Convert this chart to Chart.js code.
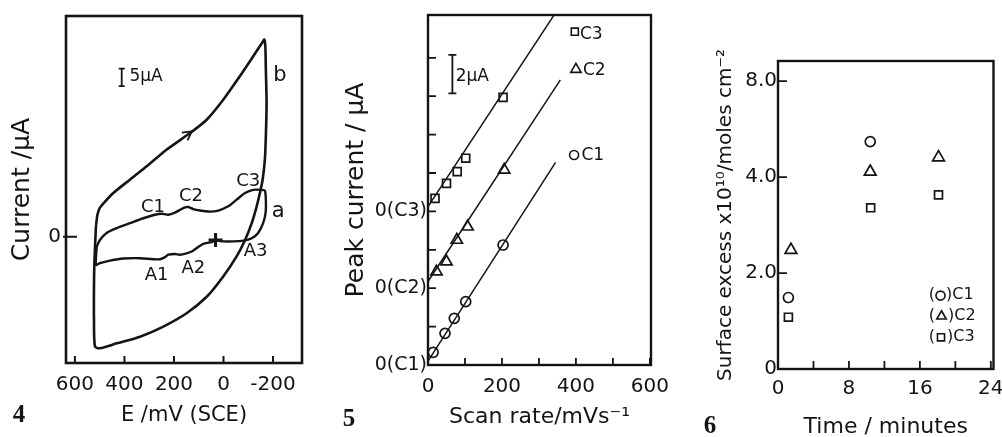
<!DOCTYPE html>
<html><head><meta charset="utf-8">
<script src="https://cdn.jsdelivr.net/npm/chart.js@4.4.1/dist/chart.umd.min.js"></script>
<style>
html,body{margin:0;padding:0;background:#fff;}
#wrap{position:relative;width:1002px;height:437px;overflow:hidden;background:#fff;}
.p{position:absolute;top:0;width:334px;height:437px;}
</style></head><body>
<div id="wrap">
<div class="p" style="left:0"><canvas id="c1" width="334" height="437"></canvas></div>
<div class="p" style="left:334px"><canvas id="c2" width="334" height="437"></canvas></div>
<div class="p" style="left:668px"><canvas id="c3" width="334" height="437"></canvas></div>
</div>
<script>
// ===== Figure 4: cyclic voltammograms, E / mV (SCE) vs current / µA =====
const curveB_E = [515, 509, 499, 479, 445, 378, 310, 229, 135, 68, 1, -66, -120, -160, -165, -169, -171, -174, -171, -167, -158, -147, -134, -114, -87, -53, 1, 68, 149, 243, 337, 431, 499, 519, 523, 523, 521, 515];
const curveB_I = [3.1, 6.3, 8.3, 10.0, 12.5, 16.3, 20.1, 24.9, 29.6, 33.4, 39.1, 45.8, 51.5, 55.8, 56.3, 54.3, 47.7, 38.2, 28.7, 22.0, 16.3, 12.5, 8.7, 3.9, -0.9, -5.6, -11.3, -17.1, -21.8, -25.6, -28.5, -30.4, -31.8, -31.3, -23.7, -14.2, -6.6, 3.1];
const curveA_E = [512, 499, 472, 431, 378, 324, 277, 250, 223, 196, 176, 156, 142, 122, 95, 55, 21, -19, -53, -87, -120, -154, -167, -171, -170, -160, -140, -114, -80, -39, 1, 28, 55, 82, 108, 128, 149, 176, 196, 223, 236, 256, 284, 337, 405, 458, 499, 515, 512];
const curveA_I = [-2.8, -0.9, 1.1, 2.5, 3.9, 5.3, 6.3, 6.6, 6.3, 6.9, 7.7, 8.4, 8.5, 7.9, 7.5, 7.2, 7.5, 8.7, 10.6, 12.5, 13.4, 13.4, 13.2, 10.6, 6.8, 3.9, 1.1, -0.4, -1.1, -1.3, -1.3, -1.1, -1.6, -2.0, -3.2, -4.2, -4.7, -5.1, -4.9, -5.1, -5.8, -6.4, -6.4, -6.1, -6.2, -6.8, -7.5, -8.0, -2.8];
const startE = [32];
const startI = [-0.9];
const fig4XTicks = [600, 400, 200, 0, -200];
const fig4XTickLabels = ['600', '400', '200', '0', '-200'];
const fig4YTicks = [0];
const fig4YTickLabels = ['0'];
const fig4Labels = ['C1', 'C2', 'C3', 'A1', 'A2', 'A3'];
const fig4LabelE = [285, 131, -100, 270, 122, -130];
const fig4LabelI = [8.4, 11.5, 15.7, -10.9, -8.9, -4.0];
const fig4CurveNames = ['a', 'b'];
const fig4CurveNameE = [-221, -228];
const fig4CurveNameI = [7.2, 46];

// ===== Figure 5: peak current vs scan rate =====
const scanRateC1 = [14, 46, 71, 102, 203];
const peakC1 = [0.66, 1.65, 2.43, 3.30, 6.25];
const scanRateC2 = [23, 50, 78, 107, 206];
const peakC2 = [0.86, 1.38, 2.51, 3.20, 6.16];
const scanRateC3 = [19, 50, 79, 102, 203];
const peakC3 = [0.68, 1.46, 2.07, 2.77, 5.94];
const zeroOffsets = [0, 4, 8];          // baseline of C1, C2, C3 on the shared axis (µA)
const fitRateC1 = [0, 345], fitPeakC1 = [0.2, 10.55];
const fitRateC2 = [0, 358], fitPeakC2 = [0.35, 10.85];
const fitRateC3 = [0, 345], fitPeakC3 = [0.25, 10.35];
const fig5XTicks = [0, 100, 200, 300, 400, 500, 600];
const fig5XTickLabels = ['0', '', '200', '', '400', '', '600'];
const fig5YTicks = [0, 2, 4, 6, 8, 10, 12, 14, 16];
const fig5YTickLabels = ['0(C1)', '', '0(C2)', '', '0(C3)', '', '', '', ''];

// ===== Figure 6: surface excess vs time =====
const timeC1 = [1.17, 10.4];
const excessC1 = [1.49, 4.74];
const timeC2 = [1.46, 10.4, 18.1];
const excessC2 = [2.48, 4.11, 4.41];
const timeC3 = [1.17, 10.45, 18.1];
const excessC3 = [1.08, 3.36, 3.63];
const fig6XTicks = [0, 4, 8, 12, 16, 20, 24];
const fig6XTickLabels = ['0', '', '8', '', '16', '', '24'];
const fig6YTicks = [0, 2, 4, 6];
const fig6YTickLabels = ['0', '2.0', '4.0', '8.0'];

// ---------------------------------------------------------------
const INK = '#141414';
const FONT = "'DejaVu Sans', sans-serif";
Chart.defaults.font.family = FONT;
Chart.defaults.color = INK;

const pts = (xs, ys, off = 0) => xs.map((x, i) => ({x, y: ys[i] + off}));

function marker(ctx, style, x, y, r) {
  ctx.beginPath();
  if (style === 'circle') ctx.arc(x, y, r, 0, Math.PI * 2);
  else if (style === 'rect') { const s = r * Math.SQRT1_2; ctx.rect(x - s, y - s, 2 * s, 2 * s); }
  else if (style === 'triangle') {
    for (let k = 0; k < 3; k++) {
      const a = k * 2 * Math.PI / 3;
      const px = x + Math.sin(a) * r, py = y - Math.cos(a) * r;
      k ? ctx.lineTo(px, py) : ctx.moveTo(px, py);
    }
    ctx.closePath();
  }
  ctx.fillStyle = '#fff'; ctx.fill(); ctx.stroke();
}

const decor = {
  id: 'decor',
  afterDatasetsDraw(chart, args, o) {
    const ctx = chart.ctx, a = chart.chartArea, xs = chart.scales.x, ys = chart.scales.y;
    const X = v => xs.getPixelForValue(v), Y = v => ys.getPixelForValue(v);
    ctx.save();
    ctx.strokeStyle = INK; ctx.fillStyle = INK;
    // frame
    ctx.lineWidth = o.frame;
    ctx.strokeRect(a.left, a.top, a.right - a.left, a.bottom - a.top);
    // inward tick marks
    ctx.lineWidth = o.tickW;
    ctx.beginPath();
    xs.ticks.forEach(t => { const p = X(t.value); ctx.moveTo(p, a.bottom); ctx.lineTo(p, a.bottom - o.xIn); });
    ys.ticks.forEach(t => { const p = Y(t.value); ctx.moveTo(a.left - (o.yOut || 0), p); ctx.lineTo(a.left + o.yIn, p); });
    ctx.stroke();
    // scale bar
    if (o.bar) {
      const b = o.bar, px = X(b.x), p1 = Y(b.y0), p2 = Y(b.y1);
      ctx.lineWidth = 1.8; ctx.beginPath();
      ctx.moveTo(px, p1); ctx.lineTo(px, p2);
      ctx.moveTo(px - b.cap, p1); ctx.lineTo(px + b.cap, p1);
      ctx.moveTo(px - b.cap, p2); ctx.lineTo(px + b.cap, p2);
      ctx.stroke();
    }
    // arrow head
    if (o.arrow) {
      const w = o.arrow, tx = X(w.x), ty = Y(w.y), ang = Math.atan2(ty - Y(w.fy), tx - X(w.fx));
      ctx.lineWidth = 1.8; ctx.beginPath();
      ctx.moveTo(tx + Math.cos(ang + Math.PI - 0.5) * 10, ty + Math.sin(ang + Math.PI - 0.5) * 10);
      ctx.lineTo(tx, ty);
      ctx.lineTo(tx + Math.cos(ang + Math.PI + 0.5) * 10, ty + Math.sin(ang + Math.PI + 0.5) * 10);
      ctx.stroke();
    }
    // markers used as keys
    ctx.lineWidth = 1.6;
    (o.marks || []).forEach(m => marker(ctx, m.style, X(m.x), Y(m.y), m.r));
    // texts in data coordinates
    ctx.fillStyle = INK; ctx.textBaseline = 'middle';
    (o.texts || []).forEach(t => {
      ctx.font = t.font; ctx.textAlign = t.align || 'center';
      ctx.fillText(t.text, X(t.x), Y(t.y));
    });
    // key lines like "(○)C1"
    (o.keys || []).forEach(k => {
      ctx.font = k.font; ctx.textAlign = 'left';
      let x = X(k.x); const y = Y(k.y);
      ctx.fillStyle = INK; ctx.fillText('(', x, y); x += ctx.measureText('(').width + k.r + 1;
      marker(ctx, k.style, x, y + 0.5, k.r);
      x += k.r + 1;
      ctx.fillStyle = INK; ctx.fillText(')' + k.text, x, y);
    });
    // panel number
    if (o.panel) {
      ctx.font = "bold 25px 'Liberation Serif', serif"; ctx.textAlign = 'center'; ctx.fillStyle = INK;
      ctx.fillText(o.panel.text, o.panel.x, o.panel.y);
    }
    ctx.restore();
  }
};

function fixedTicks(values) { return s => { s.ticks = values.map(v => ({value: v})); }; }
function xAxis(h, o) {
  return Object.assign({
    type: 'linear',
    grid: {display: false, drawTicks: false}, border: {display: false},
    afterFit: s => { s.height = h; s.paddingLeft = 0; s.paddingRight = 0; }
  }, o);
}
function yAxis(w, o) {
  return Object.assign({
    type: 'linear',
    grid: {display: false, drawTicks: false}, border: {display: false},
    afterFit: s => { s.width = w; s.paddingTop = 0; s.paddingBottom = 0; }
  }, o);
}
const base = {responsive: false, animation: false, events: [], maintainAspectRatio: false};

// ---------- Figure 4 ----------
new Chart(document.getElementById('c1'), {
  type: 'scatter',
  data: {datasets: [
    {data: pts(curveB_E, curveB_I), showLine: true, borderColor: INK, borderWidth: 2.6, pointRadius: 0, tension: 0.25},
    {data: pts(curveA_E, curveA_I), showLine: true, borderColor: INK, borderWidth: 2.4, pointRadius: 0, tension: 0.25},
    {data: pts(startE, startI), pointStyle: 'cross', pointRadius: 7, borderColor: INK, pointBorderWidth: 3}
  ]},
  options: Object.assign({}, base, {
    layout: {padding: {top: 16, right: 32, left: 0, bottom: 0}},
    plugins: {legend: {display: false}, tooltip: {enabled: false},
      decor: {frame: 2.6, tickW: 2, xIn: 7, yIn: 11, yOut: 3,
        bar: {x: 411, y0: 43, y1: 48, cap: 3},
        arrow: {x: 128, y: 30.1, fx: 229, fy: 24.9},
        texts: [
          ...fig4Labels.map((t, i) => ({text: t, x: fig4LabelE[i], y: fig4LabelI[i], font: `18px ${FONT}`})),
          ...fig4CurveNames.map((t, i) => ({text: t, x: fig4CurveNameE[i], y: fig4CurveNameI[i], font: `21px ${FONT}`})),
          {text: '5µA', x: 380, y: 45.6, align: 'left', font: `17px ${FONT}`}
        ],
        panel: {text: '4', x: 19, y: 416}}},
    scales: {
      x: xAxis(74, {min: -317, max: 636, reverse: true,
        afterBuildTicks: fixedTicks(fig4XTicks),
        ticks: {font: {size: 20}, padding: 10, autoSkip: false, maxRotation: 0, callback: (v, i) => fig4XTickLabels[i]},
        title: {display: true, text: 'E /mV (SCE)', font: {size: 21}, padding: {top: 0, bottom: 9}}}),
      y: yAxis(66, {min: -36, max: 63,
        afterBuildTicks: fixedTicks(fig4YTicks),
        ticks: {font: {size: 20}, padding: 5, callback: (v, i) => fig4YTickLabels[i]},
        title: {display: true, text: 'Current /µA', font: {size: 25}, padding: {top: 7, bottom: 0}}})
    }
  }),
  plugins: [decor]
});

// ---------- Figure 5 ----------
const openPt = (style, r) => ({pointStyle: style, pointRadius: r, pointBackgroundColor: '#fff', pointBorderColor: INK, pointBorderWidth: 1.7, showLine: false});
const fitLine = {showLine: true, borderColor: INK, borderWidth: 1.5, pointRadius: 0};
new Chart(document.getElementById('c2'), {
  type: 'scatter',
  data: {datasets: [
    Object.assign({data: pts(fitRateC1, fitPeakC1, zeroOffsets[0])}, fitLine),
    Object.assign({data: pts(fitRateC2, fitPeakC2, zeroOffsets[1])}, fitLine),
    Object.assign({data: pts(fitRateC3, fitPeakC3, zeroOffsets[2])}, fitLine),
    Object.assign({data: pts(scanRateC1, peakC1, zeroOffsets[0])}, openPt('circle', 5)),
    Object.assign({data: pts(scanRateC2, peakC2, zeroOffsets[1])}, openPt('triangle', 6.5)),
    Object.assign({data: pts(scanRateC3, peakC3, zeroOffsets[2])}, openPt('rect', 5.6))
  ]},
  options: Object.assign({}, base, {
    layout: {padding: {top: 15, right: 17, left: 0, bottom: 0}},
    plugins: {legend: {display: false}, tooltip: {enabled: false},
      decor: {frame: 2.4, tickW: 1.8, xIn: 7, yIn: 8,
        bar: {x: 66, y0: 14.15, y1: 16.15, cap: 4},
        marks: [
          {style: 'rect', x: 397, y: 17.36, r: 5},
          {style: 'triangle', x: 400, y: 15.4, r: 6},
          {style: 'circle', x: 395, y: 10.94, r: 4.5}
        ],
        texts: [
          {text: 'C3', x: 411, y: 17.2, align: 'left', font: `17px ${FONT}`},
          {text: 'C2', x: 419, y: 15.35, align: 'left', font: `17px ${FONT}`},
          {text: 'C1', x: 415, y: 10.9, align: 'left', font: `17px ${FONT}`},
          {text: '2µA', x: 75, y: 15.0, align: 'left', font: `17px ${FONT}`}
        ],
        panel: {text: '5', x: 15, y: 420}}},
    scales: {
      x: xAxis(72, {min: 0, max: 603,
        afterBuildTicks: fixedTicks(fig5XTicks),
        ticks: {font: {size: 20}, padding: 10, autoSkip: false, maxRotation: 0, callback: (v, i) => fig5XTickLabels[i]},
        title: {display: true, text: 'Scan rate/mVs⁻¹', font: {size: 22}, padding: {top: 0, bottom: 7}}}),
      y: yAxis(94, {min: 0, max: 18.23,
        afterBuildTicks: fixedTicks(fig5YTicks),
        ticks: {font: {size: 19}, padding: 1, autoSkip: false, callback: (v, i) => fig5YTickLabels[i]},
        title: {display: true, text: 'Peak current / µA', font: {size: 25}, padding: {top: 7, bottom: 0}}})
    }
  }),
  plugins: [decor]
});

// ---------- Figure 6 ----------
new Chart(document.getElementById('c3'), {
  type: 'scatter',
  data: {datasets: [
    Object.assign({data: pts(timeC1, excessC1)}, openPt('circle', 5)),
    Object.assign({data: pts(timeC2, excessC2)}, openPt('triangle', 6.8)),
    Object.assign({data: pts(timeC3, excessC3)}, openPt('rect', 5.6))
  ]},
  options: Object.assign({}, base, {
    layout: {padding: {top: 61, right: 1, left: 0, bottom: 0}},
    plugins: {legend: {display: false}, tooltip: {enabled: false},
      decor: {frame: 2.4, tickW: 1.8, xIn: 8, yIn: 9,
        keys: [
          {text: 'C1', style: 'circle', x: 17.0, y: 1.54, r: 4.5, font: `16px ${FONT}`},
          {text: 'C2', style: 'triangle', x: 17.0, y: 1.11, r: 5.5, font: `16px ${FONT}`},
          {text: 'C3', style: 'rect', x: 17.0, y: 0.67, r: 5, font: `16px ${FONT}`}
        ],
        panel: {text: '6', x: 42, y: 427}}},
    scales: {
      x: xAxis(68, {min: 0, max: 24.3,
        afterBuildTicks: fixedTicks(fig6XTicks),
        ticks: {font: {size: 20}, padding: 8, autoSkip: false, maxRotation: 0, callback: (v, i) => fig6XTickLabels[i]},
        title: {display: true, text: 'Time / minutes', font: {size: 22}, padding: {top: 0, bottom: -3}}}),
      y: yAxis(110, {min: 0, max: 6.42,
        afterBuildTicks: fixedTicks(fig6YTicks),
        ticks: {font: {size: 20}, padding: 1, callback: (v, i) => fig6YTickLabels[i]},
        title: {display: true, text: 'Surface excess x10¹⁰/moles cm⁻²', font: {size: 20}, padding: {top: 46, bottom: 0}}})
    }
  }),
  plugins: [decor]
});
</script>
</body></html>
